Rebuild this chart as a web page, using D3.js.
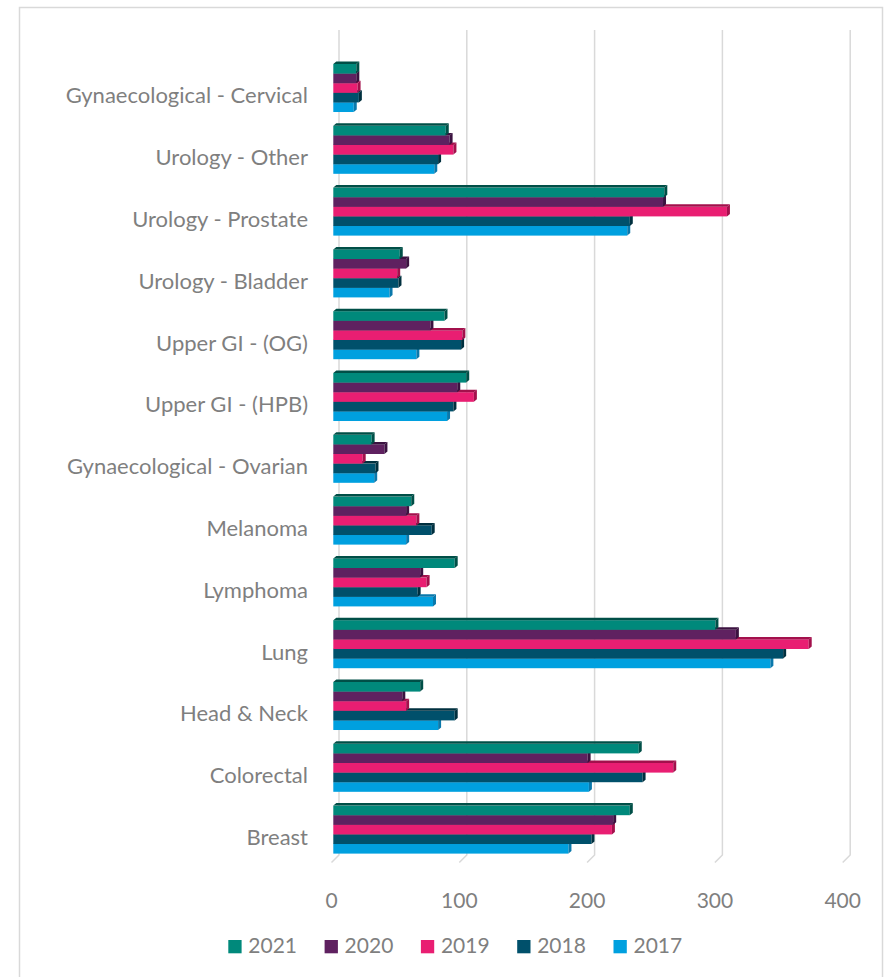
<!DOCTYPE html>
<html>
<head>
<meta charset="utf-8">
<script src="https://cdn.jsdelivr.net/npm/d3@7"></script>
<style>
  html, body { margin: 0; padding: 0; background: #ffffff; }
  svg { display: block; }
  text { font-family: Lato, "Open Sans", sans-serif; fill: #7f7f7f; }
</style>
</head>
<body>
<svg id="chart" width="892" height="977"></svg>
<script>
// Cancer referral counts by tumour site, 2017–2021
const categories = [
  "Gynaecological - Cervical", "Urology - Other", "Urology - Prostate",
  "Urology - Bladder", "Upper GI - (OG)", "Upper GI - (HPB)",
  "Gynaecological - Ovarian", "Melanoma", "Lymphoma", "Lung",
  "Head & Neck", "Colorectal", "Breast"
];
const years = ["2021", "2020", "2019", "2018", "2017"];
const values2021 = [18, 88, 259, 52, 87, 104, 30, 61, 95, 299, 68, 239, 232];
const values2020 = [18, 91, 258, 57, 76, 97, 40, 57, 68, 315, 54, 199, 219];
const values2019 = [19, 94, 308, 50, 101, 110, 23, 65, 73, 372, 57, 266, 218];
const values2018 = [20, 82, 232, 51, 100, 94, 33, 77, 66, 352, 95, 242, 202];
const values2017 = [16, 79, 230, 44, 65, 89, 32, 57, 78, 342, 82, 200, 184];
const tickValues = [0, 100, 200, 300, 400];

const seriesValues = {
  "2021": values2021, "2020": values2020, "2019": values2019,
  "2018": values2018, "2017": values2017
};
const faceColor = {
  "2021": "#00897b", "2020": "#5f2160", "2019": "#e91e72",
  "2018": "#00506b", "2017": "#00a0df"
};
const shadeColor = {
  "2021": "#004f47", "2020": "#3b1240", "2019": "#a3104c",
  "2018": "#00303f", "2017": "#0a78ab"
};

const svg = d3.select("#chart");

// outer chart frame
svg.append("rect")
  .attr("x", 19.5).attr("y", 7.5)
  .attr("width", 863).attr("height", 1000)
  .attr("fill", "none").attr("stroke", "#d9d9d9").attr("stroke-width", 1.5);

const x = d3.scaleLinear().domain([0, 400]).range([333.3, 844.5]);
const y = d3.scaleBand().domain(categories)
  .range([57.1, 860.5]).paddingInner(0.223).paddingOuter(0.1115);
const ySub = d3.scaleBand().domain(years).range([0, y.bandwidth()]);

// oblique depth offsets for the 3D look
const wallDx = 5.7, floorDx = -1.8;
const wallTop = 30, wallBottom = 855, floorY = 862.5;
const dx = 3, dy = 2.5;

// gridlines on the back wall, bending down onto the floor
const grid = svg.append("g");
tickValues.forEach(v => {
  grid.append("path")
    .attr("d", d3.line()([
      [x(v) + wallDx, wallTop],
      [x(v) + wallDx, wallBottom],
      [x(v) + floorDx, floorY]
    ]))
    .attr("fill", "none").attr("stroke", "#d9d9d9").attr("stroke-width", 1.5);
});

// value axis labels along the front of the floor
svg.append("g").selectAll("text").data(tickValues).join("text")
  .attr("x", v => x(v) + floorDx)
  .attr("y", 908)
  .attr("text-anchor", "middle")
  .attr("font-size", 21)
  .text(v => v);

// category labels
svg.append("g").selectAll("text").data(categories).join("text")
  .attr("x", 308)
  .attr("y", c => y(c) + y.bandwidth() / 2 + 15.3)
  .attr("text-anchor", "end")
  .attr("font-size", 22)
  .text(c => c);

// 3D bars: drawn bottom-up so each bar hides the top face of the one below
const bars = svg.append("g");
categories.forEach((cat, i) => {
  const g = bars.append("g");
  years.slice().reverse().forEach(yr => {
    const v = seriesValues[yr][i];
    const x0 = x(0), x1 = x(v);
    const top = y(cat) + ySub(yr);
    const h = ySub.bandwidth();
    g.append("rect")
      .attr("x", x0).attr("y", top)
      .attr("width", x1 - x0).attr("height", h)
      .attr("fill", faceColor[yr]);
    g.append("path")
      .attr("d", d3.line()([[x0, top], [x1, top], [x1 + dx, top - dy], [x0 + dx, top - dy]]) + "Z")
      .attr("fill", shadeColor[yr]);
    g.append("path")
      .attr("d", d3.line()([[x1, top], [x1 + dx, top - dy], [x1 + dx, top + h - dy], [x1, top + h]]) + "Z")
      .attr("fill", shadeColor[yr]);
  });
});

// legend
const legend = svg.append("g");
years.forEach((yr, i) => {
  const lx = 228.3 + i * 96.3;
  legend.append("rect")
    .attr("x", lx).attr("y", 940)
    .attr("width", 13.3).attr("height", 13.3)
    .attr("fill", faceColor[yr]);
  legend.append("text")
    .attr("x", lx + 20).attr("y", 953.3)
    .attr("font-size", 21)
    .text(yr);
});
</script>
</body>
</html>
